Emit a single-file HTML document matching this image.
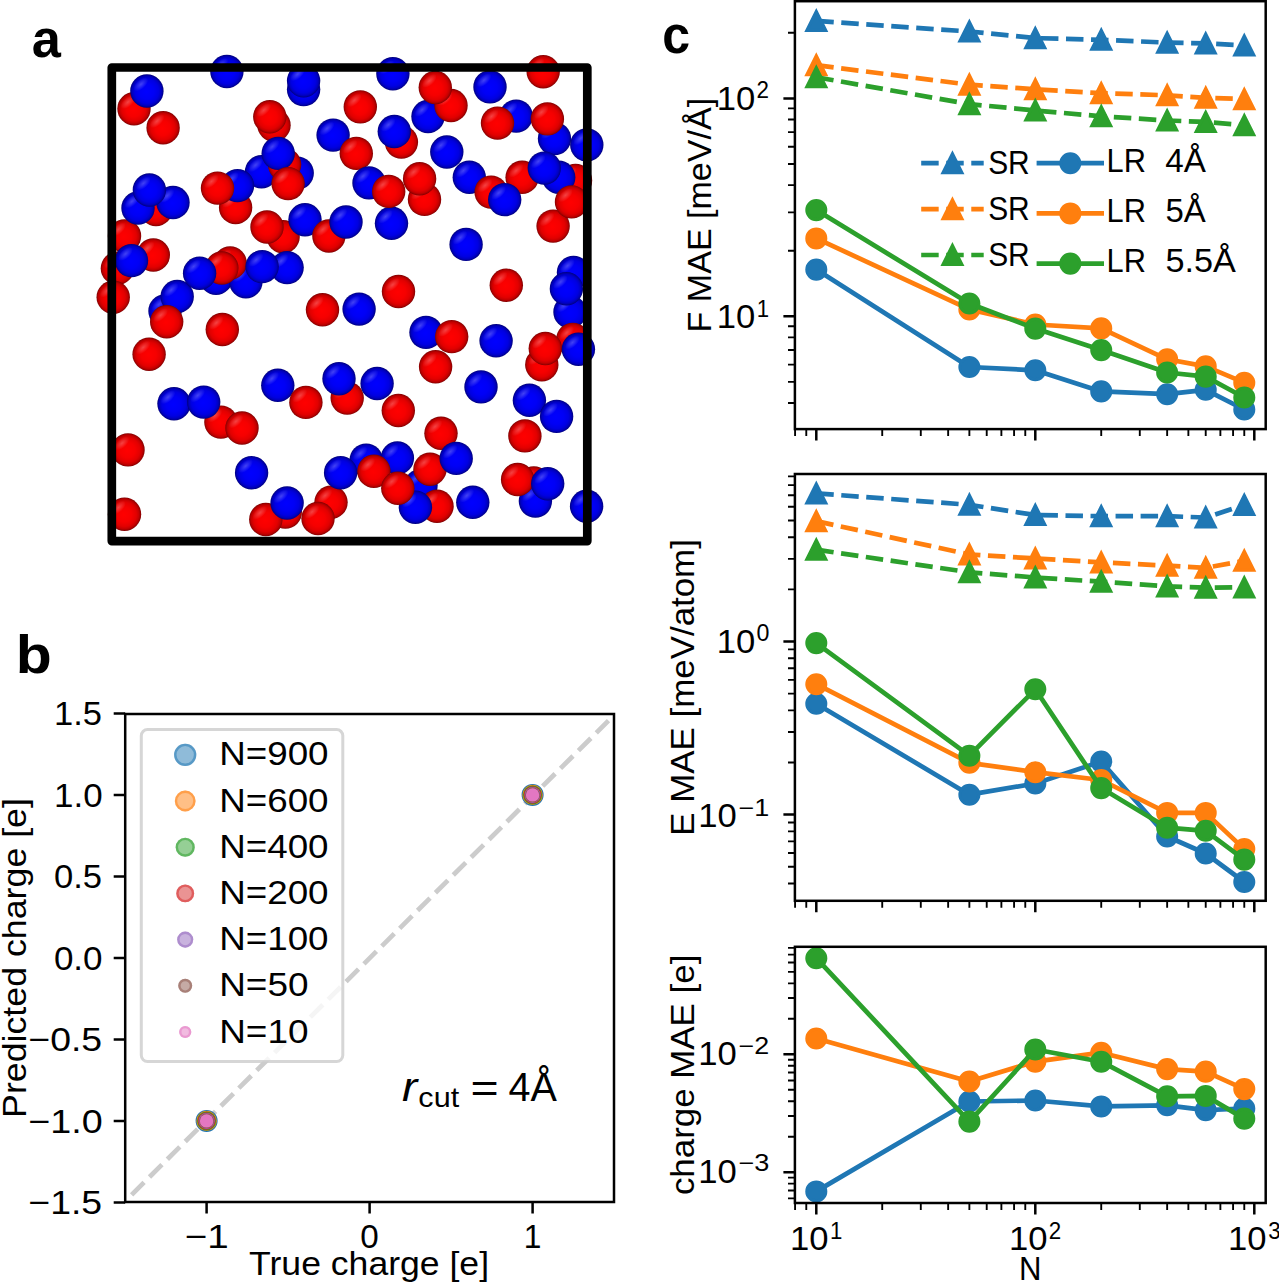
<!DOCTYPE html>
<html><head><meta charset="utf-8"><title>Figure</title>
<style>
html,body{margin:0;padding:0;background:#fff;overflow:hidden;width:1279px;height:1282px;}
svg{display:block;}
text{font-family:"Liberation Sans",sans-serif;fill:#000;}
</style></head><body>
<svg width="1279" height="1282" viewBox="0 0 1279 1282">
<rect width="1279" height="1282" fill="#fff"/>
<defs>
<radialGradient id="gR" cx="0.5" cy="0.5" r="0.5" fx="0.48" fy="0.52">
<stop offset="0" stop-color="#ff0000"/><stop offset="0.45" stop-color="#f60000"/>
<stop offset="0.72" stop-color="#e20000"/><stop offset="0.86" stop-color="#c60000"/><stop offset="0.95" stop-color="#a00000"/><stop offset="1" stop-color="#7a0000"/>
</radialGradient>
<radialGradient id="gB" cx="0.5" cy="0.5" r="0.5" fx="0.48" fy="0.52">
<stop offset="0" stop-color="#0000ff"/><stop offset="0.45" stop-color="#0000f6"/>
<stop offset="0.72" stop-color="#0000e2"/><stop offset="0.86" stop-color="#0000c4"/><stop offset="0.95" stop-color="#00009c"/><stop offset="1" stop-color="#000078"/>
</radialGradient>
<radialGradient id="gH">
<stop offset="0" stop-color="#fff" stop-opacity="0.26"/><stop offset="0.5" stop-color="#fff" stop-opacity="0.13"/><stop offset="1" stop-color="#fff" stop-opacity="0"/>
</radialGradient>
<g id="sR"><circle r="16.7" fill="url(#gR)"/><ellipse cx="0" cy="-9.0" rx="9" ry="4.6" transform="rotate(-42)" fill="url(#gH)"/></g>
<g id="sB"><circle r="16.7" fill="url(#gB)"/><ellipse cx="0" cy="-9.0" rx="9" ry="4.6" transform="rotate(-42)" fill="url(#gH)"/></g>
</defs>
<use href="#sB" x="226.9" y="71.5"/>
<use href="#sR" x="134" y="108.75"/>
<use href="#sR" x="163.1" y="127.75"/>
<use href="#sB" x="303.6" y="89.6"/>
<use href="#sB" x="392.9" y="73.8"/>
<use href="#sB" x="428" y="116.5"/>
<use href="#sB" x="490" y="86.9"/>
<use href="#sR" x="543.2" y="71.7"/>
<use href="#sB" x="516.2" y="116.1"/>
<use href="#sB" x="554.5" y="138.6"/>
<use href="#sB" x="586.8" y="144.9"/>
<use href="#sB" x="446.8" y="152"/>
<use href="#sB" x="469.3" y="177.3"/>
<use href="#sR" x="491.1" y="192.1"/>
<use href="#sR" x="522.1" y="177.3"/>
<use href="#sR" x="575.5" y="180.5"/>
<use href="#sR" x="553.1" y="226.1"/>
<use href="#sR" x="360.3" y="106.9"/>
<use href="#sR" x="274" y="125.2"/>
<use href="#sB" x="333.1" y="135.1"/>
<use href="#sR" x="401.4" y="142.1"/>
<use href="#sB" x="297.2" y="173.1"/>
<use href="#sB" x="261.5" y="171.8"/>
<use href="#sR" x="356.3" y="153.4"/>
<use href="#sB" x="369" y="182.9"/>
<use href="#sR" x="424.5" y="199.4"/>
<use href="#sR" x="235.6" y="207.5"/>
<use href="#sR" x="156" y="209.5"/>
<use href="#sR" x="283.1" y="236.7"/>
<use href="#sB" x="391.5" y="223.3"/>
<use href="#sR" x="124.5" y="236"/>
<use href="#sR" x="153.3" y="255"/>
<use href="#sR" x="117.4" y="268.3"/>
<use href="#sR" x="113.2" y="297.2"/>
<use href="#sB" x="216" y="278.3"/>
<use href="#sB" x="245.9" y="281.8"/>
<use href="#sB" x="165" y="311"/>
<use href="#sR" x="222.3" y="329.5"/>
<use href="#sR" x="149.1" y="354.2"/>
<use href="#sR" x="398.5" y="291.5"/>
<use href="#sR" x="322.5" y="309.8"/>
<use href="#sB" x="359.1" y="309.1"/>
<use href="#sB" x="426" y="332.4"/>
<use href="#sR" x="435.6" y="366.8"/>
<use href="#sB" x="277.8" y="385.3"/>
<use href="#sR" x="347.2" y="398.1"/>
<use href="#sB" x="377.1" y="383.5"/>
<use href="#sB" x="466.1" y="244.4"/>
<use href="#sR" x="506.3" y="285.2"/>
<use href="#sB" x="573.5" y="272.5"/>
<use href="#sB" x="570" y="312"/>
<use href="#sB" x="496.1" y="340.8"/>
<use href="#sR" x="541.8" y="364.7"/>
<use href="#sR" x="572.8" y="339.4"/>
<use href="#sB" x="481" y="386.9"/>
<use href="#sB" x="529.4" y="400.3"/>
<use href="#sB" x="174" y="403.8"/>
<use href="#sR" x="220.9" y="422.1"/>
<use href="#sR" x="128" y="449.9"/>
<use href="#sB" x="251.6" y="472.7"/>
<use href="#sR" x="124.5" y="514.2"/>
<use href="#sR" x="285.3" y="512.1"/>
<use href="#sR" x="305.9" y="402.4"/>
<use href="#sR" x="398.3" y="410.5"/>
<use href="#sB" x="366.2" y="460.1"/>
<use href="#sB" x="397.4" y="458"/>
<use href="#sB" x="421" y="485.4"/>
<use href="#sR" x="437" y="506.2"/>
<use href="#sR" x="331" y="502.3"/>
<use href="#sR" x="441" y="433.3"/>
<use href="#sB" x="556.6" y="416.4"/>
<use href="#sR" x="524.9" y="435.9"/>
<use href="#sR" x="533.8" y="483"/>
<use href="#sB" x="535.4" y="501.1"/>
<use href="#sB" x="586.6" y="506.2"/>
<use href="#sB" x="472.8" y="502.3"/>
<use href="#sB" x="146.9" y="91"/>
<use href="#sB" x="303.6" y="80.8"/>
<use href="#sR" x="451" y="105.5"/>
<use href="#sR" x="497.5" y="123.1"/>
<use href="#sR" x="547.4" y="118.9"/>
<use href="#sB" x="504.7" y="199.6"/>
<use href="#sB" x="558.7" y="177.3"/>
<use href="#sR" x="269.8" y="116.8"/>
<use href="#sB" x="394.3" y="131.5"/>
<use href="#sR" x="284.6" y="164.6"/>
<use href="#sR" x="388.7" y="191.4"/>
<use href="#sR" x="419.6" y="178.7"/>
<use href="#sB" x="237.5" y="185.6"/>
<use href="#sB" x="138" y="208"/>
<use href="#sB" x="173" y="202.5"/>
<use href="#sR" x="267" y="227"/>
<use href="#sB" x="305" y="219.7"/>
<use href="#sB" x="131.5" y="260.6"/>
<use href="#sR" x="230.1" y="263"/>
<use href="#sB" x="287.1" y="267.6"/>
<use href="#sB" x="177.2" y="296.5"/>
<use href="#sB" x="339" y="378.7"/>
<use href="#sB" x="566.4" y="288.7"/>
<use href="#sR" x="451.7" y="336.6"/>
<use href="#sR" x="545.3" y="348.5"/>
<use href="#sB" x="578.4" y="349.2"/>
<use href="#sB" x="203.7" y="402.1"/>
<use href="#sR" x="242" y="428"/>
<use href="#sR" x="265.8" y="519.5"/>
<use href="#sB" x="340.6" y="472.7"/>
<use href="#sR" x="373.9" y="471.3"/>
<use href="#sR" x="430" y="469.2"/>
<use href="#sB" x="415.4" y="507.2"/>
<use href="#sR" x="318" y="518.5"/>
<use href="#sR" x="517.6" y="479.5"/>
<use href="#sR" x="435.3" y="87.5"/>
<use href="#sB" x="544.3" y="168.1"/>
<use href="#sR" x="571.5" y="201.9"/>
<use href="#sB" x="278.2" y="153.4"/>
<use href="#sR" x="217.5" y="188.1"/>
<use href="#sB" x="149.4" y="190"/>
<use href="#sR" x="328.9" y="236"/>
<use href="#sR" x="221.8" y="268"/>
<use href="#sR" x="166.7" y="321.8"/>
<use href="#sB" x="287.1" y="503"/>
<use href="#sB" x="456.2" y="458.4"/>
<use href="#sR" x="397.8" y="488.2"/>
<use href="#sB" x="547.7" y="483.7"/>
<use href="#sR" x="288.1" y="183.6"/>
<use href="#sB" x="346" y="222"/>
<use href="#sB" x="199.6" y="273.2"/>
<use href="#sB" x="262.1" y="266.6"/>
<rect x="111.8" y="67.5" width="475.5" height="473.6" fill="none" stroke="#000" stroke-width="8.7" stroke-linejoin="round"/>
<text x="31.66" y="57.3" font-size="53.62" textLength="29.14" lengthAdjust="spacingAndGlyphs" font-weight="bold">a</text>
<clipPath id="clipb"><rect x="125.2" y="714" width="488.8" height="488"/></clipPath>
<g clip-path="url(#clipb)">
<path d="M131.6 1194.8L608.5 720.7" stroke="#cccccc" stroke-width="4.72" stroke-dasharray="17.6 7.6" fill="none"/>
<circle cx="206.6" cy="1120.9" r="11" fill="#1f77b4"/>
<circle cx="206.6" cy="1120.9" r="10.2" fill="#ff7f0e"/>
<circle cx="206.6" cy="1120.9" r="9.5" fill="#2ca02c"/>
<circle cx="206.6" cy="1120.9" r="8.75" fill="#d62728"/>
<circle cx="206.6" cy="1120.9" r="8" fill="#9467bd"/>
<circle cx="206.6" cy="1120.9" r="7.4" fill="#8c564b"/>
<circle cx="206.6" cy="1120.9" r="6.7" fill="#e377c2"/>
<circle cx="532.6" cy="794.9" r="11" fill="#1f77b4"/>
<circle cx="532.6" cy="794.9" r="10.2" fill="#ff7f0e"/>
<circle cx="532.6" cy="794.9" r="9.5" fill="#2ca02c"/>
<circle cx="532.6" cy="794.9" r="8.75" fill="#d62728"/>
<circle cx="532.6" cy="794.9" r="8" fill="#9467bd"/>
<circle cx="532.6" cy="794.9" r="7.4" fill="#8c564b"/>
<circle cx="532.6" cy="794.9" r="6.7" fill="#e377c2"/>
</g>
<path d="M206.6 1202v11.5 M369.6 1202v11.5 M532.6 1202v11.5 M125.2 1202.4h-11.5 M125.2 1120.9h-11.5 M125.2 1039.4h-11.5 M125.2 957.9h-11.5 M125.2 876.4h-11.5 M125.2 794.9h-11.5 M125.2 713.4h-11.5" stroke="#000" stroke-width="2.5" fill="none"/>
<rect x="125.2" y="714" width="488.8" height="488" fill="none" stroke="#000" stroke-width="2.5"/>
<text x="184.83" y="1247.5" font-size="33.38" textLength="43.98" lengthAdjust="spacingAndGlyphs">−1</text>
<text x="360.36" y="1247.5" font-size="33.38" textLength="18.47" lengthAdjust="spacingAndGlyphs">0</text>
<text x="523.63" y="1247.5" font-size="33.38" textLength="17.64" lengthAdjust="spacingAndGlyphs">1</text>
<text x="28.32" y="1214" font-size="33.38" textLength="73.81" lengthAdjust="spacingAndGlyphs">−1.5</text>
<text x="28.3" y="1132.5" font-size="33.38" textLength="74.38" lengthAdjust="spacingAndGlyphs">−1.0</text>
<text x="28.32" y="1051" font-size="33.38" textLength="73.81" lengthAdjust="spacingAndGlyphs">−0.5</text>
<text x="53.92" y="969.5" font-size="33.38" textLength="48.66" lengthAdjust="spacingAndGlyphs">0.0</text>
<text x="53.93" y="888" font-size="33.38" textLength="48.07" lengthAdjust="spacingAndGlyphs">0.5</text>
<text x="54.01" y="806.5" font-size="33.38" textLength="48.56" lengthAdjust="spacingAndGlyphs">1.0</text>
<text x="54.05" y="725" font-size="33.38" textLength="47.95" lengthAdjust="spacingAndGlyphs">1.5</text>
<text x="249.1" y="1275" font-size="33.38" textLength="239.94" lengthAdjust="spacingAndGlyphs">True charge [e]</text>
<g transform="translate(25.9,958) rotate(-90)"><text x="-159.95" y="0" font-size="33.38" textLength="319.86" lengthAdjust="spacingAndGlyphs">Predicted charge [e]</text></g>
<rect x="141.3" y="729.6" width="201.5" height="332" rx="6.25" ry="6.25" fill="#fff" fill-opacity="0.8" stroke="#cccccc" stroke-opacity="0.8" stroke-width="3"/>
<circle cx="185.2" cy="754.8" r="11.1" fill="#1f77b4" fill-opacity="0.5"/><circle cx="185.2" cy="754.8" r="9.9" fill="none" stroke="#1f77b4" stroke-opacity="0.5" stroke-width="2.4"/>
<text x="219.17" y="765.4" font-size="33.38" textLength="109.37" lengthAdjust="spacingAndGlyphs">N=900</text>
<circle cx="185.2" cy="801" r="10.4" fill="#ff7f0e" fill-opacity="0.5"/><circle cx="185.2" cy="801" r="9.2" fill="none" stroke="#ff7f0e" stroke-opacity="0.5" stroke-width="2.4"/>
<text x="219.17" y="811.6" font-size="33.38" textLength="109.37" lengthAdjust="spacingAndGlyphs">N=600</text>
<circle cx="185.2" cy="847.2" r="9.55" fill="#2ca02c" fill-opacity="0.5"/><circle cx="185.2" cy="847.2" r="8.35" fill="none" stroke="#2ca02c" stroke-opacity="0.5" stroke-width="2.4"/>
<text x="219.17" y="857.8" font-size="33.38" textLength="109.37" lengthAdjust="spacingAndGlyphs">N=400</text>
<circle cx="185.2" cy="893.4" r="8.95" fill="#d62728" fill-opacity="0.5"/><circle cx="185.2" cy="893.4" r="7.75" fill="none" stroke="#d62728" stroke-opacity="0.5" stroke-width="2.4"/>
<text x="219.17" y="904" font-size="33.38" textLength="109.37" lengthAdjust="spacingAndGlyphs">N=200</text>
<circle cx="185.2" cy="939.6" r="8.05" fill="#9467bd" fill-opacity="0.5"/><circle cx="185.2" cy="939.6" r="6.85" fill="none" stroke="#9467bd" stroke-opacity="0.5" stroke-width="2.4"/>
<text x="219.17" y="950.2" font-size="33.38" textLength="109.37" lengthAdjust="spacingAndGlyphs">N=100</text>
<circle cx="185.2" cy="985.8" r="7" fill="#8c564b" fill-opacity="0.5"/><circle cx="185.2" cy="985.8" r="5.8" fill="none" stroke="#8c564b" stroke-opacity="0.5" stroke-width="2.4"/>
<text x="219.16" y="996.4" font-size="33.38" textLength="89.35" lengthAdjust="spacingAndGlyphs">N=50</text>
<circle cx="185.2" cy="1032" r="6.1" fill="#e377c2" fill-opacity="0.5"/><circle cx="185.2" cy="1032" r="4.9" fill="none" stroke="#e377c2" stroke-opacity="0.5" stroke-width="2.4"/>
<text x="219.16" y="1042.6" font-size="33.38" textLength="89.35" lengthAdjust="spacingAndGlyphs">N=10</text>
<text x="402.03" y="1101.3" font-size="39.73" textLength="15.27" lengthAdjust="spacingAndGlyphs" font-style="italic">r</text>
<text x="418.36" y="1107.3" font-size="27.81" textLength="40.79" lengthAdjust="spacingAndGlyphs">cut</text>
<text x="470.61" y="1102.3" font-size="39.73" textLength="28.21" lengthAdjust="spacingAndGlyphs">=</text>
<text x="508.43" y="1101.3" font-size="39.73" textLength="48.36" lengthAdjust="spacingAndGlyphs">4Å</text>
<text x="15.86" y="672.5" font-size="53.62" textLength="36" lengthAdjust="spacingAndGlyphs" font-weight="bold">b</text>
<clipPath id="clipc0"><rect x="794.9" y="1.2" width="470.8" height="427.9"/></clipPath>
<g clip-path="url(#clipc0)">
<polyline points="816.3,20.9 969.37,31.5 1035.3,38.1 1101.23,39.8 1167.15,42.6 1205.72,43.4 1244.28,45.4" fill="none" stroke="#1f77b4" stroke-width="4.72" stroke-linejoin="round" stroke-linecap="butt" stroke-dasharray="17.48 7.56"/><path d="M816.3 11.45L806.85 30.35L825.75 30.35Z" fill="#1f77b4" stroke="#1f77b4" stroke-width="3.15" stroke-linejoin="miter"/><path d="M969.37 22.05L959.92 40.95L978.82 40.95Z" fill="#1f77b4" stroke="#1f77b4" stroke-width="3.15" stroke-linejoin="miter"/><path d="M1035.3 28.65L1025.85 47.55L1044.75 47.55Z" fill="#1f77b4" stroke="#1f77b4" stroke-width="3.15" stroke-linejoin="miter"/><path d="M1101.23 30.35L1091.78 49.25L1110.68 49.25Z" fill="#1f77b4" stroke="#1f77b4" stroke-width="3.15" stroke-linejoin="miter"/><path d="M1167.15 33.15L1157.7 52.05L1176.6 52.05Z" fill="#1f77b4" stroke="#1f77b4" stroke-width="3.15" stroke-linejoin="miter"/><path d="M1205.72 33.95L1196.27 52.85L1215.17 52.85Z" fill="#1f77b4" stroke="#1f77b4" stroke-width="3.15" stroke-linejoin="miter"/><path d="M1244.28 35.95L1234.83 54.85L1253.73 54.85Z" fill="#1f77b4" stroke="#1f77b4" stroke-width="3.15" stroke-linejoin="miter"/>
<polyline points="816.3,269.6 969.37,367 1035.3,370.3 1101.23,391.4 1167.15,394.2 1205.72,389.8 1244.28,409.5" fill="none" stroke="#1f77b4" stroke-width="4.72" stroke-linejoin="round" stroke-linecap="butt"/><circle cx="816.3" cy="269.6" r="9.45" fill="#1f77b4" stroke="#1f77b4" stroke-width="3.15"/><circle cx="969.37" cy="367" r="9.45" fill="#1f77b4" stroke="#1f77b4" stroke-width="3.15"/><circle cx="1035.3" cy="370.3" r="9.45" fill="#1f77b4" stroke="#1f77b4" stroke-width="3.15"/><circle cx="1101.23" cy="391.4" r="9.45" fill="#1f77b4" stroke="#1f77b4" stroke-width="3.15"/><circle cx="1167.15" cy="394.2" r="9.45" fill="#1f77b4" stroke="#1f77b4" stroke-width="3.15"/><circle cx="1205.72" cy="389.8" r="9.45" fill="#1f77b4" stroke="#1f77b4" stroke-width="3.15"/><circle cx="1244.28" cy="409.5" r="9.45" fill="#1f77b4" stroke="#1f77b4" stroke-width="3.15"/>
<polyline points="816.3,65.2 969.37,84.7 1035.3,89.3 1101.23,93.2 1167.15,95.3 1205.72,97.8 1244.28,99.1" fill="none" stroke="#ff7f0e" stroke-width="4.72" stroke-linejoin="round" stroke-linecap="butt" stroke-dasharray="17.48 7.56"/><path d="M816.3 55.75L806.85 74.65L825.75 74.65Z" fill="#ff7f0e" stroke="#ff7f0e" stroke-width="3.15" stroke-linejoin="miter"/><path d="M969.37 75.25L959.92 94.15L978.82 94.15Z" fill="#ff7f0e" stroke="#ff7f0e" stroke-width="3.15" stroke-linejoin="miter"/><path d="M1035.3 79.85L1025.85 98.75L1044.75 98.75Z" fill="#ff7f0e" stroke="#ff7f0e" stroke-width="3.15" stroke-linejoin="miter"/><path d="M1101.23 83.75L1091.78 102.65L1110.68 102.65Z" fill="#ff7f0e" stroke="#ff7f0e" stroke-width="3.15" stroke-linejoin="miter"/><path d="M1167.15 85.85L1157.7 104.75L1176.6 104.75Z" fill="#ff7f0e" stroke="#ff7f0e" stroke-width="3.15" stroke-linejoin="miter"/><path d="M1205.72 88.35L1196.27 107.25L1215.17 107.25Z" fill="#ff7f0e" stroke="#ff7f0e" stroke-width="3.15" stroke-linejoin="miter"/><path d="M1244.28 89.65L1234.83 108.55L1253.73 108.55Z" fill="#ff7f0e" stroke="#ff7f0e" stroke-width="3.15" stroke-linejoin="miter"/>
<polyline points="816.3,238.4 969.37,309.4 1035.3,324.5 1101.23,328.4 1167.15,359.3 1205.72,366.4 1244.28,382.7" fill="none" stroke="#ff7f0e" stroke-width="4.72" stroke-linejoin="round" stroke-linecap="butt"/><circle cx="816.3" cy="238.4" r="9.45" fill="#ff7f0e" stroke="#ff7f0e" stroke-width="3.15"/><circle cx="969.37" cy="309.4" r="9.45" fill="#ff7f0e" stroke="#ff7f0e" stroke-width="3.15"/><circle cx="1035.3" cy="324.5" r="9.45" fill="#ff7f0e" stroke="#ff7f0e" stroke-width="3.15"/><circle cx="1101.23" cy="328.4" r="9.45" fill="#ff7f0e" stroke="#ff7f0e" stroke-width="3.15"/><circle cx="1167.15" cy="359.3" r="9.45" fill="#ff7f0e" stroke="#ff7f0e" stroke-width="3.15"/><circle cx="1205.72" cy="366.4" r="9.45" fill="#ff7f0e" stroke="#ff7f0e" stroke-width="3.15"/><circle cx="1244.28" cy="382.7" r="9.45" fill="#ff7f0e" stroke="#ff7f0e" stroke-width="3.15"/>
<polyline points="816.3,77.2 969.37,104.1 1035.3,110.5 1101.23,116.3 1167.15,120.5 1205.72,121.9 1244.28,125.3" fill="none" stroke="#2ca02c" stroke-width="4.72" stroke-linejoin="round" stroke-linecap="butt" stroke-dasharray="17.48 7.56"/><path d="M816.3 67.75L806.85 86.65L825.75 86.65Z" fill="#2ca02c" stroke="#2ca02c" stroke-width="3.15" stroke-linejoin="miter"/><path d="M969.37 94.65L959.92 113.55L978.82 113.55Z" fill="#2ca02c" stroke="#2ca02c" stroke-width="3.15" stroke-linejoin="miter"/><path d="M1035.3 101.05L1025.85 119.95L1044.75 119.95Z" fill="#2ca02c" stroke="#2ca02c" stroke-width="3.15" stroke-linejoin="miter"/><path d="M1101.23 106.85L1091.78 125.75L1110.68 125.75Z" fill="#2ca02c" stroke="#2ca02c" stroke-width="3.15" stroke-linejoin="miter"/><path d="M1167.15 111.05L1157.7 129.95L1176.6 129.95Z" fill="#2ca02c" stroke="#2ca02c" stroke-width="3.15" stroke-linejoin="miter"/><path d="M1205.72 112.45L1196.27 131.35L1215.17 131.35Z" fill="#2ca02c" stroke="#2ca02c" stroke-width="3.15" stroke-linejoin="miter"/><path d="M1244.28 115.85L1234.83 134.75L1253.73 134.75Z" fill="#2ca02c" stroke="#2ca02c" stroke-width="3.15" stroke-linejoin="miter"/>
<polyline points="816.3,210.1 969.37,303.5 1035.3,328.6 1101.23,350.1 1167.15,372.5 1205.72,376.6 1244.28,397.5" fill="none" stroke="#2ca02c" stroke-width="4.72" stroke-linejoin="round" stroke-linecap="butt"/><circle cx="816.3" cy="210.1" r="9.45" fill="#2ca02c" stroke="#2ca02c" stroke-width="3.15"/><circle cx="969.37" cy="303.5" r="9.45" fill="#2ca02c" stroke="#2ca02c" stroke-width="3.15"/><circle cx="1035.3" cy="328.6" r="9.45" fill="#2ca02c" stroke="#2ca02c" stroke-width="3.15"/><circle cx="1101.23" cy="350.1" r="9.45" fill="#2ca02c" stroke="#2ca02c" stroke-width="3.15"/><circle cx="1167.15" cy="372.5" r="9.45" fill="#2ca02c" stroke="#2ca02c" stroke-width="3.15"/><circle cx="1205.72" cy="376.6" r="9.45" fill="#2ca02c" stroke="#2ca02c" stroke-width="3.15"/><circle cx="1244.28" cy="397.5" r="9.45" fill="#2ca02c" stroke="#2ca02c" stroke-width="3.15"/>
</g>
<path d="M816.3 429.1v11.5 M1035.3 429.1v11.5 M1254.3 429.1v11.5 M794.9 316.3h-11.5 M794.9 98.4h-11.5" stroke="#000" stroke-width="2.5" fill="none"/>
<path d="M795.08 429.1v6.9 M806.28 429.1v6.9 M882.23 429.1v6.9 M920.79 429.1v6.9 M948.15 429.1v6.9 M969.37 429.1v6.9 M986.72 429.1v6.9 M1001.38 429.1v6.9 M1014.08 429.1v6.9 M1025.28 429.1v6.9 M1101.23 429.1v6.9 M1139.79 429.1v6.9 M1167.15 429.1v6.9 M1188.37 429.1v6.9 M1205.72 429.1v6.9 M1220.38 429.1v6.9 M1233.08 429.1v6.9 M1244.28 429.1v6.9 M794.9 403.01h-6.9 M794.9 381.89h-6.9 M794.9 364.64h-6.9 M794.9 350.05h-6.9 M794.9 337.42h-6.9 M794.9 326.27h-6.9 M794.9 250.71h-6.9 M794.9 212.34h-6.9 M794.9 185.11h-6.9 M794.9 163.99h-6.9 M794.9 146.74h-6.9 M794.9 132.15h-6.9 M794.9 119.52h-6.9 M794.9 108.37h-6.9 M794.9 32.81h-6.9" stroke="#000" stroke-width="1.875" fill="none"/>
<rect x="794.9" y="1.2" width="470.8" height="427.9" fill="none" stroke="#000" stroke-width="2.5" stroke-linejoin="miter"/>
<text x="716.72" y="328.3" font-size="33.38" textLength="38.52" lengthAdjust="spacingAndGlyphs">10</text><text x="756.71" y="316.7" font-size="23.36" textLength="12.35" lengthAdjust="spacingAndGlyphs">1</text>
<text x="716.72" y="109.5" font-size="33.38" textLength="38.52" lengthAdjust="spacingAndGlyphs">10</text><text x="756.46" y="97.9" font-size="23.36" textLength="12.45" lengthAdjust="spacingAndGlyphs">2</text>
<g transform="translate(710.6,215.15) rotate(-90)"><text x="-117.27" y="0" font-size="33.38" textLength="234.53" lengthAdjust="spacingAndGlyphs">F MAE [meV/Å]</text></g>
<clipPath id="clipc1"><rect x="794.9" y="474" width="470.8" height="426.8"/></clipPath>
<g clip-path="url(#clipc1)">
<polyline points="816.3,493.4 969.37,504.8 1035.3,515 1101.23,516.2 1167.15,516.2 1205.72,517.5 1244.28,504.9" fill="none" stroke="#1f77b4" stroke-width="4.72" stroke-linejoin="round" stroke-linecap="butt" stroke-dasharray="17.48 7.56"/><path d="M816.3 483.95L806.85 502.85L825.75 502.85Z" fill="#1f77b4" stroke="#1f77b4" stroke-width="3.15" stroke-linejoin="miter"/><path d="M969.37 495.35L959.92 514.25L978.82 514.25Z" fill="#1f77b4" stroke="#1f77b4" stroke-width="3.15" stroke-linejoin="miter"/><path d="M1035.3 505.55L1025.85 524.45L1044.75 524.45Z" fill="#1f77b4" stroke="#1f77b4" stroke-width="3.15" stroke-linejoin="miter"/><path d="M1101.23 506.75L1091.78 525.65L1110.68 525.65Z" fill="#1f77b4" stroke="#1f77b4" stroke-width="3.15" stroke-linejoin="miter"/><path d="M1167.15 506.75L1157.7 525.65L1176.6 525.65Z" fill="#1f77b4" stroke="#1f77b4" stroke-width="3.15" stroke-linejoin="miter"/><path d="M1205.72 508.05L1196.27 526.95L1215.17 526.95Z" fill="#1f77b4" stroke="#1f77b4" stroke-width="3.15" stroke-linejoin="miter"/><path d="M1244.28 495.45L1234.83 514.35L1253.73 514.35Z" fill="#1f77b4" stroke="#1f77b4" stroke-width="3.15" stroke-linejoin="miter"/>
<polyline points="816.3,703.7 969.37,794.7 1035.3,783.5 1101.23,761.6 1167.15,836.5 1205.72,853.5 1244.28,882" fill="none" stroke="#1f77b4" stroke-width="4.72" stroke-linejoin="round" stroke-linecap="butt"/><circle cx="816.3" cy="703.7" r="9.45" fill="#1f77b4" stroke="#1f77b4" stroke-width="3.15"/><circle cx="969.37" cy="794.7" r="9.45" fill="#1f77b4" stroke="#1f77b4" stroke-width="3.15"/><circle cx="1035.3" cy="783.5" r="9.45" fill="#1f77b4" stroke="#1f77b4" stroke-width="3.15"/><circle cx="1101.23" cy="761.6" r="9.45" fill="#1f77b4" stroke="#1f77b4" stroke-width="3.15"/><circle cx="1167.15" cy="836.5" r="9.45" fill="#1f77b4" stroke="#1f77b4" stroke-width="3.15"/><circle cx="1205.72" cy="853.5" r="9.45" fill="#1f77b4" stroke="#1f77b4" stroke-width="3.15"/><circle cx="1244.28" cy="882" r="9.45" fill="#1f77b4" stroke="#1f77b4" stroke-width="3.15"/>
<polyline points="816.3,521.1 969.37,554.5 1035.3,558.5 1101.23,562.4 1167.15,565.6 1205.72,567.8 1244.28,560.7" fill="none" stroke="#ff7f0e" stroke-width="4.72" stroke-linejoin="round" stroke-linecap="butt" stroke-dasharray="17.48 7.56"/><path d="M816.3 511.65L806.85 530.55L825.75 530.55Z" fill="#ff7f0e" stroke="#ff7f0e" stroke-width="3.15" stroke-linejoin="miter"/><path d="M969.37 545.05L959.92 563.95L978.82 563.95Z" fill="#ff7f0e" stroke="#ff7f0e" stroke-width="3.15" stroke-linejoin="miter"/><path d="M1035.3 549.05L1025.85 567.95L1044.75 567.95Z" fill="#ff7f0e" stroke="#ff7f0e" stroke-width="3.15" stroke-linejoin="miter"/><path d="M1101.23 552.95L1091.78 571.85L1110.68 571.85Z" fill="#ff7f0e" stroke="#ff7f0e" stroke-width="3.15" stroke-linejoin="miter"/><path d="M1167.15 556.15L1157.7 575.05L1176.6 575.05Z" fill="#ff7f0e" stroke="#ff7f0e" stroke-width="3.15" stroke-linejoin="miter"/><path d="M1205.72 558.35L1196.27 577.25L1215.17 577.25Z" fill="#ff7f0e" stroke="#ff7f0e" stroke-width="3.15" stroke-linejoin="miter"/><path d="M1244.28 551.25L1234.83 570.15L1253.73 570.15Z" fill="#ff7f0e" stroke="#ff7f0e" stroke-width="3.15" stroke-linejoin="miter"/>
<polyline points="816.3,684.2 969.37,762.8 1035.3,772.2 1101.23,780 1167.15,812.9 1205.72,812.9 1244.28,849.1" fill="none" stroke="#ff7f0e" stroke-width="4.72" stroke-linejoin="round" stroke-linecap="butt"/><circle cx="816.3" cy="684.2" r="9.45" fill="#ff7f0e" stroke="#ff7f0e" stroke-width="3.15"/><circle cx="969.37" cy="762.8" r="9.45" fill="#ff7f0e" stroke="#ff7f0e" stroke-width="3.15"/><circle cx="1035.3" cy="772.2" r="9.45" fill="#ff7f0e" stroke="#ff7f0e" stroke-width="3.15"/><circle cx="1101.23" cy="780" r="9.45" fill="#ff7f0e" stroke="#ff7f0e" stroke-width="3.15"/><circle cx="1167.15" cy="812.9" r="9.45" fill="#ff7f0e" stroke="#ff7f0e" stroke-width="3.15"/><circle cx="1205.72" cy="812.9" r="9.45" fill="#ff7f0e" stroke="#ff7f0e" stroke-width="3.15"/><circle cx="1244.28" cy="849.1" r="9.45" fill="#ff7f0e" stroke="#ff7f0e" stroke-width="3.15"/>
<polyline points="816.3,549.7 969.37,572.3 1035.3,577.5 1101.23,581.7 1167.15,586.4 1205.72,587.6 1244.28,587.4" fill="none" stroke="#2ca02c" stroke-width="4.72" stroke-linejoin="round" stroke-linecap="butt" stroke-dasharray="17.48 7.56"/><path d="M816.3 540.25L806.85 559.15L825.75 559.15Z" fill="#2ca02c" stroke="#2ca02c" stroke-width="3.15" stroke-linejoin="miter"/><path d="M969.37 562.85L959.92 581.75L978.82 581.75Z" fill="#2ca02c" stroke="#2ca02c" stroke-width="3.15" stroke-linejoin="miter"/><path d="M1035.3 568.05L1025.85 586.95L1044.75 586.95Z" fill="#2ca02c" stroke="#2ca02c" stroke-width="3.15" stroke-linejoin="miter"/><path d="M1101.23 572.25L1091.78 591.15L1110.68 591.15Z" fill="#2ca02c" stroke="#2ca02c" stroke-width="3.15" stroke-linejoin="miter"/><path d="M1167.15 576.95L1157.7 595.85L1176.6 595.85Z" fill="#2ca02c" stroke="#2ca02c" stroke-width="3.15" stroke-linejoin="miter"/><path d="M1205.72 578.15L1196.27 597.05L1215.17 597.05Z" fill="#2ca02c" stroke="#2ca02c" stroke-width="3.15" stroke-linejoin="miter"/><path d="M1244.28 577.95L1234.83 596.85L1253.73 596.85Z" fill="#2ca02c" stroke="#2ca02c" stroke-width="3.15" stroke-linejoin="miter"/>
<polyline points="816.3,643.1 969.37,755.7 1035.3,689.3 1101.23,788.1 1167.15,827.7 1205.72,830.8 1244.28,859.6" fill="none" stroke="#2ca02c" stroke-width="4.72" stroke-linejoin="round" stroke-linecap="butt"/><circle cx="816.3" cy="643.1" r="9.45" fill="#2ca02c" stroke="#2ca02c" stroke-width="3.15"/><circle cx="969.37" cy="755.7" r="9.45" fill="#2ca02c" stroke="#2ca02c" stroke-width="3.15"/><circle cx="1035.3" cy="689.3" r="9.45" fill="#2ca02c" stroke="#2ca02c" stroke-width="3.15"/><circle cx="1101.23" cy="788.1" r="9.45" fill="#2ca02c" stroke="#2ca02c" stroke-width="3.15"/><circle cx="1167.15" cy="827.7" r="9.45" fill="#2ca02c" stroke="#2ca02c" stroke-width="3.15"/><circle cx="1205.72" cy="830.8" r="9.45" fill="#2ca02c" stroke="#2ca02c" stroke-width="3.15"/><circle cx="1244.28" cy="859.6" r="9.45" fill="#2ca02c" stroke="#2ca02c" stroke-width="3.15"/>
</g>
<path d="M816.3 900.8v11.5 M1035.3 900.8v11.5 M1254.3 900.8v11.5 M794.9 814.6h-11.5 M794.9 641.5h-11.5" stroke="#000" stroke-width="2.5" fill="none"/>
<path d="M795.08 900.8v6.9 M806.28 900.8v6.9 M882.23 900.8v6.9 M920.79 900.8v6.9 M948.15 900.8v6.9 M969.37 900.8v6.9 M986.72 900.8v6.9 M1001.38 900.8v6.9 M1014.08 900.8v6.9 M1025.28 900.8v6.9 M1101.23 900.8v6.9 M1139.79 900.8v6.9 M1167.15 900.8v6.9 M1188.37 900.8v6.9 M1205.72 900.8v6.9 M1220.38 900.8v6.9 M1233.08 900.8v6.9 M1244.28 900.8v6.9 M794.9 883.48h-6.9 M794.9 866.71h-6.9 M794.9 853h-6.9 M794.9 841.41h-6.9 M794.9 831.38h-6.9 M794.9 822.52h-6.9 M794.9 762.49h-6.9 M794.9 732.01h-6.9 M794.9 710.38h-6.9 M794.9 693.61h-6.9 M794.9 679.9h-6.9 M794.9 668.31h-6.9 M794.9 658.28h-6.9 M794.9 649.42h-6.9 M794.9 589.39h-6.9 M794.9 558.91h-6.9 M794.9 537.28h-6.9 M794.9 520.51h-6.9 M794.9 506.8h-6.9 M794.9 495.21h-6.9 M794.9 485.18h-6.9 M794.9 476.32h-6.9" stroke="#000" stroke-width="1.875" fill="none"/>
<rect x="794.9" y="474" width="470.8" height="426.8" fill="none" stroke="#000" stroke-width="2.5" stroke-linejoin="miter"/>
<text x="698.25" y="827.4" font-size="33.38" textLength="38.52" lengthAdjust="spacingAndGlyphs">10</text><text x="738.51" y="815.8" font-size="23.36" textLength="30.79" lengthAdjust="spacingAndGlyphs">−1</text>
<text x="716.72" y="652.6" font-size="33.38" textLength="38.52" lengthAdjust="spacingAndGlyphs">10</text><text x="756.52" y="641" font-size="23.36" textLength="12.93" lengthAdjust="spacingAndGlyphs">0</text>
<g transform="translate(694.1,687.4) rotate(-90)"><text x="-148.26" y="0" font-size="33.38" textLength="296.5" lengthAdjust="spacingAndGlyphs">E MAE [meV/atom]</text></g>
<clipPath id="clipc2"><rect x="794.9" y="946.8" width="470.8" height="256.2"/></clipPath>
<g clip-path="url(#clipc2)">
<polyline points="816.3,1191.4 969.37,1101.5 1035.3,1100.5 1101.23,1106.4 1167.15,1105.3 1205.72,1110.2 1244.28,1108.5" fill="none" stroke="#1f77b4" stroke-width="4.72" stroke-linejoin="round" stroke-linecap="butt"/><circle cx="816.3" cy="1191.4" r="9.45" fill="#1f77b4" stroke="#1f77b4" stroke-width="3.15"/><circle cx="969.37" cy="1101.5" r="9.45" fill="#1f77b4" stroke="#1f77b4" stroke-width="3.15"/><circle cx="1035.3" cy="1100.5" r="9.45" fill="#1f77b4" stroke="#1f77b4" stroke-width="3.15"/><circle cx="1101.23" cy="1106.4" r="9.45" fill="#1f77b4" stroke="#1f77b4" stroke-width="3.15"/><circle cx="1167.15" cy="1105.3" r="9.45" fill="#1f77b4" stroke="#1f77b4" stroke-width="3.15"/><circle cx="1205.72" cy="1110.2" r="9.45" fill="#1f77b4" stroke="#1f77b4" stroke-width="3.15"/><circle cx="1244.28" cy="1108.5" r="9.45" fill="#1f77b4" stroke="#1f77b4" stroke-width="3.15"/>
<polyline points="816.3,1038.5 969.37,1081.5 1035.3,1061.6 1101.23,1052.7 1167.15,1069.1 1205.72,1071.6 1244.28,1089.1" fill="none" stroke="#ff7f0e" stroke-width="4.72" stroke-linejoin="round" stroke-linecap="butt"/><circle cx="816.3" cy="1038.5" r="9.45" fill="#ff7f0e" stroke="#ff7f0e" stroke-width="3.15"/><circle cx="969.37" cy="1081.5" r="9.45" fill="#ff7f0e" stroke="#ff7f0e" stroke-width="3.15"/><circle cx="1035.3" cy="1061.6" r="9.45" fill="#ff7f0e" stroke="#ff7f0e" stroke-width="3.15"/><circle cx="1101.23" cy="1052.7" r="9.45" fill="#ff7f0e" stroke="#ff7f0e" stroke-width="3.15"/><circle cx="1167.15" cy="1069.1" r="9.45" fill="#ff7f0e" stroke="#ff7f0e" stroke-width="3.15"/><circle cx="1205.72" cy="1071.6" r="9.45" fill="#ff7f0e" stroke="#ff7f0e" stroke-width="3.15"/><circle cx="1244.28" cy="1089.1" r="9.45" fill="#ff7f0e" stroke="#ff7f0e" stroke-width="3.15"/>
<polyline points="816.3,958.2 969.37,1121.6 1035.3,1049.5 1101.23,1061.7 1167.15,1096.3 1205.72,1095.9 1244.28,1118.6" fill="none" stroke="#2ca02c" stroke-width="4.72" stroke-linejoin="round" stroke-linecap="butt"/><circle cx="816.3" cy="958.2" r="9.45" fill="#2ca02c" stroke="#2ca02c" stroke-width="3.15"/><circle cx="969.37" cy="1121.6" r="9.45" fill="#2ca02c" stroke="#2ca02c" stroke-width="3.15"/><circle cx="1035.3" cy="1049.5" r="9.45" fill="#2ca02c" stroke="#2ca02c" stroke-width="3.15"/><circle cx="1101.23" cy="1061.7" r="9.45" fill="#2ca02c" stroke="#2ca02c" stroke-width="3.15"/><circle cx="1167.15" cy="1096.3" r="9.45" fill="#2ca02c" stroke="#2ca02c" stroke-width="3.15"/><circle cx="1205.72" cy="1095.9" r="9.45" fill="#2ca02c" stroke="#2ca02c" stroke-width="3.15"/><circle cx="1244.28" cy="1118.6" r="9.45" fill="#2ca02c" stroke="#2ca02c" stroke-width="3.15"/>
</g>
<path d="M816.3 1203v11.5 M1035.3 1203v11.5 M1254.3 1203v11.5 M794.9 1172.2h-11.5 M794.9 1054.3h-11.5" stroke="#000" stroke-width="2.5" fill="none"/>
<path d="M795.08 1203v6.9 M806.28 1203v6.9 M882.23 1203v6.9 M920.79 1203v6.9 M948.15 1203v6.9 M969.37 1203v6.9 M986.72 1203v6.9 M1001.38 1203v6.9 M1014.08 1203v6.9 M1025.28 1203v6.9 M1101.23 1203v6.9 M1139.79 1203v6.9 M1167.15 1203v6.9 M1188.37 1203v6.9 M1205.72 1203v6.9 M1220.38 1203v6.9 M1233.08 1203v6.9 M1244.28 1203v6.9 M794.9 1198.36h-6.9 M794.9 1190.46h-6.9 M794.9 1183.63h-6.9 M794.9 1177.59h-6.9 M794.9 1136.71h-6.9 M794.9 1115.95h-6.9 M794.9 1101.22h-6.9 M794.9 1089.79h-6.9 M794.9 1080.46h-6.9 M794.9 1072.56h-6.9 M794.9 1065.73h-6.9 M794.9 1059.69h-6.9 M794.9 1018.81h-6.9 M794.9 998.05h-6.9 M794.9 983.32h-6.9 M794.9 971.89h-6.9 M794.9 962.56h-6.9 M794.9 954.66h-6.9 M794.9 947.83h-6.9" stroke="#000" stroke-width="1.875" fill="none"/>
<rect x="794.9" y="946.8" width="470.8" height="256.2" fill="none" stroke="#000" stroke-width="2.5" stroke-linejoin="miter"/>
<text x="698.25" y="1182.8" font-size="33.38" textLength="38.52" lengthAdjust="spacingAndGlyphs">10</text><text x="738.5" y="1171.2" font-size="23.36" textLength="30.93" lengthAdjust="spacingAndGlyphs">−3</text>
<text x="698.25" y="1065.4" font-size="33.38" textLength="38.52" lengthAdjust="spacingAndGlyphs">10</text><text x="738.52" y="1053.8" font-size="23.36" textLength="30.62" lengthAdjust="spacingAndGlyphs">−2</text>
<g transform="translate(694.1,1074.9) rotate(-90)"><text x="-120.22" y="0" font-size="33.38" textLength="240.48" lengthAdjust="spacingAndGlyphs">charge MAE [e]</text></g>
<text x="790.08" y="1250.2" font-size="33.38" textLength="38.52" lengthAdjust="spacingAndGlyphs">10</text><text x="830.06" y="1238.6" font-size="23.36" textLength="12.35" lengthAdjust="spacingAndGlyphs">1</text>
<text x="1009.08" y="1250.2" font-size="33.38" textLength="38.52" lengthAdjust="spacingAndGlyphs">10</text><text x="1048.82" y="1238.6" font-size="23.36" textLength="12.45" lengthAdjust="spacingAndGlyphs">2</text>
<text x="1228.08" y="1250.2" font-size="33.38" textLength="38.52" lengthAdjust="spacingAndGlyphs">10</text><text x="1268.15" y="1238.6" font-size="23.36" textLength="12.42" lengthAdjust="spacingAndGlyphs">3</text>
<text x="1019.05" y="1280" font-size="33.38" textLength="22.46" lengthAdjust="spacingAndGlyphs">N</text>
<path d="M921.2 163.2h62.5" stroke="#1f77b4" stroke-width="4.72" stroke-dasharray="17.48 7.56" fill="none"/>
<path d="M952.45 153.75L943 172.65L961.9 172.65Z" fill="#1f77b4" stroke="#1f77b4" stroke-width="3.15" stroke-linejoin="miter"/>
<text x="988.13" y="174.1" font-size="33.38" textLength="41.64" lengthAdjust="spacingAndGlyphs">SR</text>
<path d="M921.2 209.1h62.5" stroke="#ff7f0e" stroke-width="4.72" stroke-dasharray="17.48 7.56" fill="none"/>
<path d="M952.45 199.65L943 218.55L961.9 218.55Z" fill="#ff7f0e" stroke="#ff7f0e" stroke-width="3.15" stroke-linejoin="miter"/>
<text x="988.13" y="220" font-size="33.38" textLength="41.64" lengthAdjust="spacingAndGlyphs">SR</text>
<path d="M921.2 255h62.5" stroke="#2ca02c" stroke-width="4.72" stroke-dasharray="17.48 7.56" fill="none"/>
<path d="M952.45 245.55L943 264.45L961.9 264.45Z" fill="#2ca02c" stroke="#2ca02c" stroke-width="3.15" stroke-linejoin="miter"/>
<text x="988.13" y="265.9" font-size="33.38" textLength="41.64" lengthAdjust="spacingAndGlyphs">SR</text>
<path d="M1036.6 163.2h67.4" stroke="#1f77b4" stroke-width="4.72" fill="none"/>
<circle cx="1070.3" cy="163.2" r="9.45" fill="#1f77b4" stroke="#1f77b4" stroke-width="3.15"/>
<text x="1106.56" y="171.9" font-size="33.38" textLength="39.39" lengthAdjust="spacingAndGlyphs">LR</text>
<text x="1165.18" y="171.9" font-size="33.38" textLength="40.62" lengthAdjust="spacingAndGlyphs">4Å</text>
<path d="M1036.6 213.4h67.4" stroke="#ff7f0e" stroke-width="4.72" fill="none"/>
<circle cx="1070.3" cy="213.4" r="9.45" fill="#ff7f0e" stroke="#ff7f0e" stroke-width="3.15"/>
<text x="1106.56" y="222.1" font-size="33.38" textLength="39.39" lengthAdjust="spacingAndGlyphs">LR</text>
<text x="1165.51" y="222.1" font-size="33.38" textLength="40.29" lengthAdjust="spacingAndGlyphs">5Å</text>
<path d="M1036.6 263.6h67.4" stroke="#2ca02c" stroke-width="4.72" fill="none"/>
<circle cx="1070.3" cy="263.6" r="9.45" fill="#2ca02c" stroke="#2ca02c" stroke-width="3.15"/>
<text x="1106.56" y="272.3" font-size="33.38" textLength="39.39" lengthAdjust="spacingAndGlyphs">LR</text>
<text x="1165.46" y="272.3" font-size="33.38" textLength="70.4" lengthAdjust="spacingAndGlyphs">5.5Å</text>
<text x="662.22" y="53.3" font-size="53.62" textLength="27.85" lengthAdjust="spacingAndGlyphs" font-weight="bold">c</text>
</svg>
</body></html>
